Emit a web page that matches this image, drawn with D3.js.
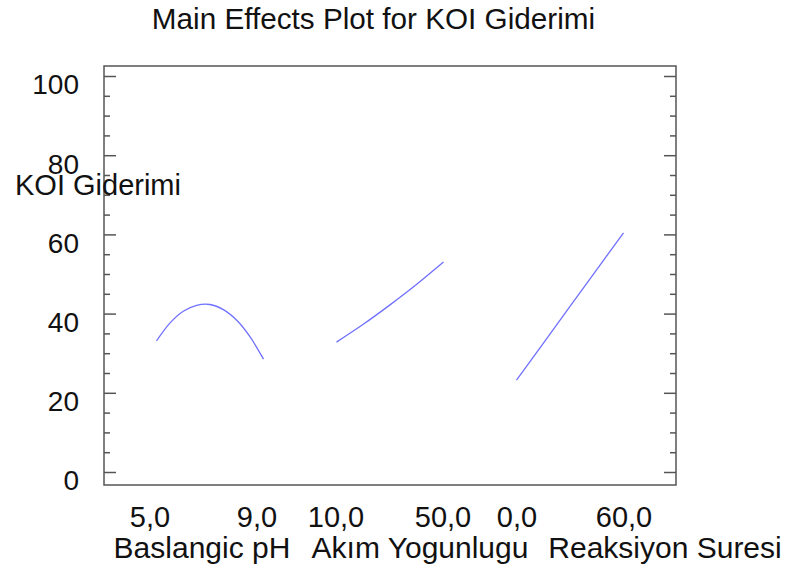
<!DOCTYPE html>
<html>
<head>
<meta charset="utf-8">
<script src="https://cdn.jsdelivr.net/npm/d3@7/dist/d3.min.js"></script>
<style>
  html, body { margin: 0; padding: 0; background: #fff; }
  svg { display: block; }
  text { font-family: "Liberation Sans", Arial, sans-serif; fill: #111; }
</style>
</head>
<body>
<svg id="chart" width="787" height="569"></svg>
<script>
// Factor names, x-axis labels and level values
const factors = ["Baslangic pH", "Akım Yogunlugu", "Reaksiyon Suresi"];
const phLevels = [5.0, 5.5, 6.0, 6.5, 7.0, 7.5, 8.0, 8.5, 9.0];
const phMeans = [33.1, 37.6, 40.6, 42.1, 42.3, 41.0, 38.3, 34.1, 28.5];
const akimLevels = [10, 20, 30, 40, 50];
const akimMeans = [32.8, 37.3, 42.2, 47.4, 53.0];
const sureLevels = [0, 15, 30, 45, 60];
const sureMeans = [23.2, 32.5, 41.8, 51.1, 60.4];
const yMajorTicks = [0, 20, 40, 60, 80, 100];
const yMinorTicks = [5, 10, 15, 25, 30, 35, 45, 50, 55, 65, 70, 75, 85, 90, 95];
const titleText = "Main Effects Plot for KOI Giderimi";
const yTitle = "KOI Giderimi";

const series = [
  { name: factors[0], levels: phLevels, means: phMeans },
  { name: factors[1], levels: akimLevels, means: akimMeans },
  { name: factors[2], levels: sureLevels, means: sureMeans }
];

const svg = d3.select("#chart");
const box = { left: 104, right: 676, top: 66, bottom: 485 };
const FONT = "'Liberation Sans', Arial, sans-serif";

const y = d3.scaleLinear().domain([0, 100]).range([472, 76]);

// one band per factor, each with its own linear scale over the levels
const band = d3.scaleBand()
  .domain(factors)
  .range([box.left, box.right])
  .paddingInner(0.4056)
  .paddingOuter(0.2917);

series.forEach(s => {
  s.x = d3.scaleLinear()
    .domain(d3.extent(s.levels))
    .range([band(s.name), band(s.name) + band.bandwidth()]);
});

const fmt = v => d3.format(".1f")(v).replace(".", ",");

// title
svg.append("text")
  .attr("x", 373.5)
  .attr("y", 29)
  .attr("text-anchor", "middle")
  .style("font-size", "29.7px")
  .text(titleText);

// left axis: major ticks with labels, minor ticks without
const leftMajor = svg.append("g")
  .attr("transform", `translate(${box.left},0)`)
  .call(d3.axisLeft(y).tickValues(yMajorTicks).tickSize(-12).tickPadding(25).tickFormat(d3.format("d")));
leftMajor.selectAll("text")
  .attr("y", 9)
  .style("font-size", "28px")
  .style("font-family", FONT)
  .attr("fill", "#111");

const leftMinor = svg.append("g")
  .attr("transform", `translate(${box.left},0)`)
  .call(d3.axisLeft(y).tickValues(yMinorTicks).tickSize(-6).tickFormat(""));

// right axis ticks pointing inward
const rightMajor = svg.append("g")
  .attr("transform", `translate(${box.right},0)`)
  .call(d3.axisRight(y).tickValues(yMajorTicks).tickSize(-12).tickFormat(""));
const rightMinor = svg.append("g")
  .attr("transform", `translate(${box.right},0)`)
  .call(d3.axisRight(y).tickValues(yMinorTicks).tickSize(-6).tickFormat(""));

[leftMajor, leftMinor, rightMajor, rightMinor].forEach(g => {
  g.select(".domain").remove();
  g.selectAll("line").attr("stroke", "#555").attr("stroke-width", 1.5);
});

// plot frame
svg.append("rect")
  .attr("x", box.left)
  .attr("y", box.top)
  .attr("width", box.right - box.left)
  .attr("height", box.bottom - box.top)
  .attr("fill", "none")
  .attr("stroke", "#555")
  .attr("stroke-width", 1.5);

// y title, drawn over the axis
svg.append("text")
  .attr("x", 15)
  .attr("y", 195)
  .style("font-size", "29px")
  .text(yTitle);

// main effect lines
series.forEach(s => {
  const line = d3.line()
    .x((d, i) => s.x(s.levels[i]))
    .y(d => y(d))
    .curve(d3.curveCatmullRom.alpha(0.5));
  svg.append("path")
    .datum(s.means)
    .attr("fill", "none")
    .attr("stroke", "#7070ff")
    .attr("stroke-width", 1.3)
    .attr("d", line);
});

// x tick labels: low and high level of each factor
const tickShift = [-7, -1, 0];
series.forEach((s, i) => {
  const g = svg.append("g")
    .attr("transform", `translate(${tickShift[i]},${box.bottom})`)
    .call(d3.axisBottom(s.x).tickValues(d3.extent(s.levels)).tickSize(0).tickPadding(0).tickFormat(fmt));
  g.select(".domain").remove();
  g.selectAll("text")
    .attr("y", 42)
    .attr("dy", 0)
    .style("font-size", "29px")
    .style("font-family", FONT)
    .attr("fill", "#111");
});

// factor names under the tick labels
const nameX = [202, 420, 665];
series.forEach((s, i) => {
  svg.append("text")
    .attr("x", nameX[i])
    .attr("y", 558)
    .attr("text-anchor", "middle")
    .style("font-size", "30px")
    .text(s.name);
});
</script>
</body>
</html>
